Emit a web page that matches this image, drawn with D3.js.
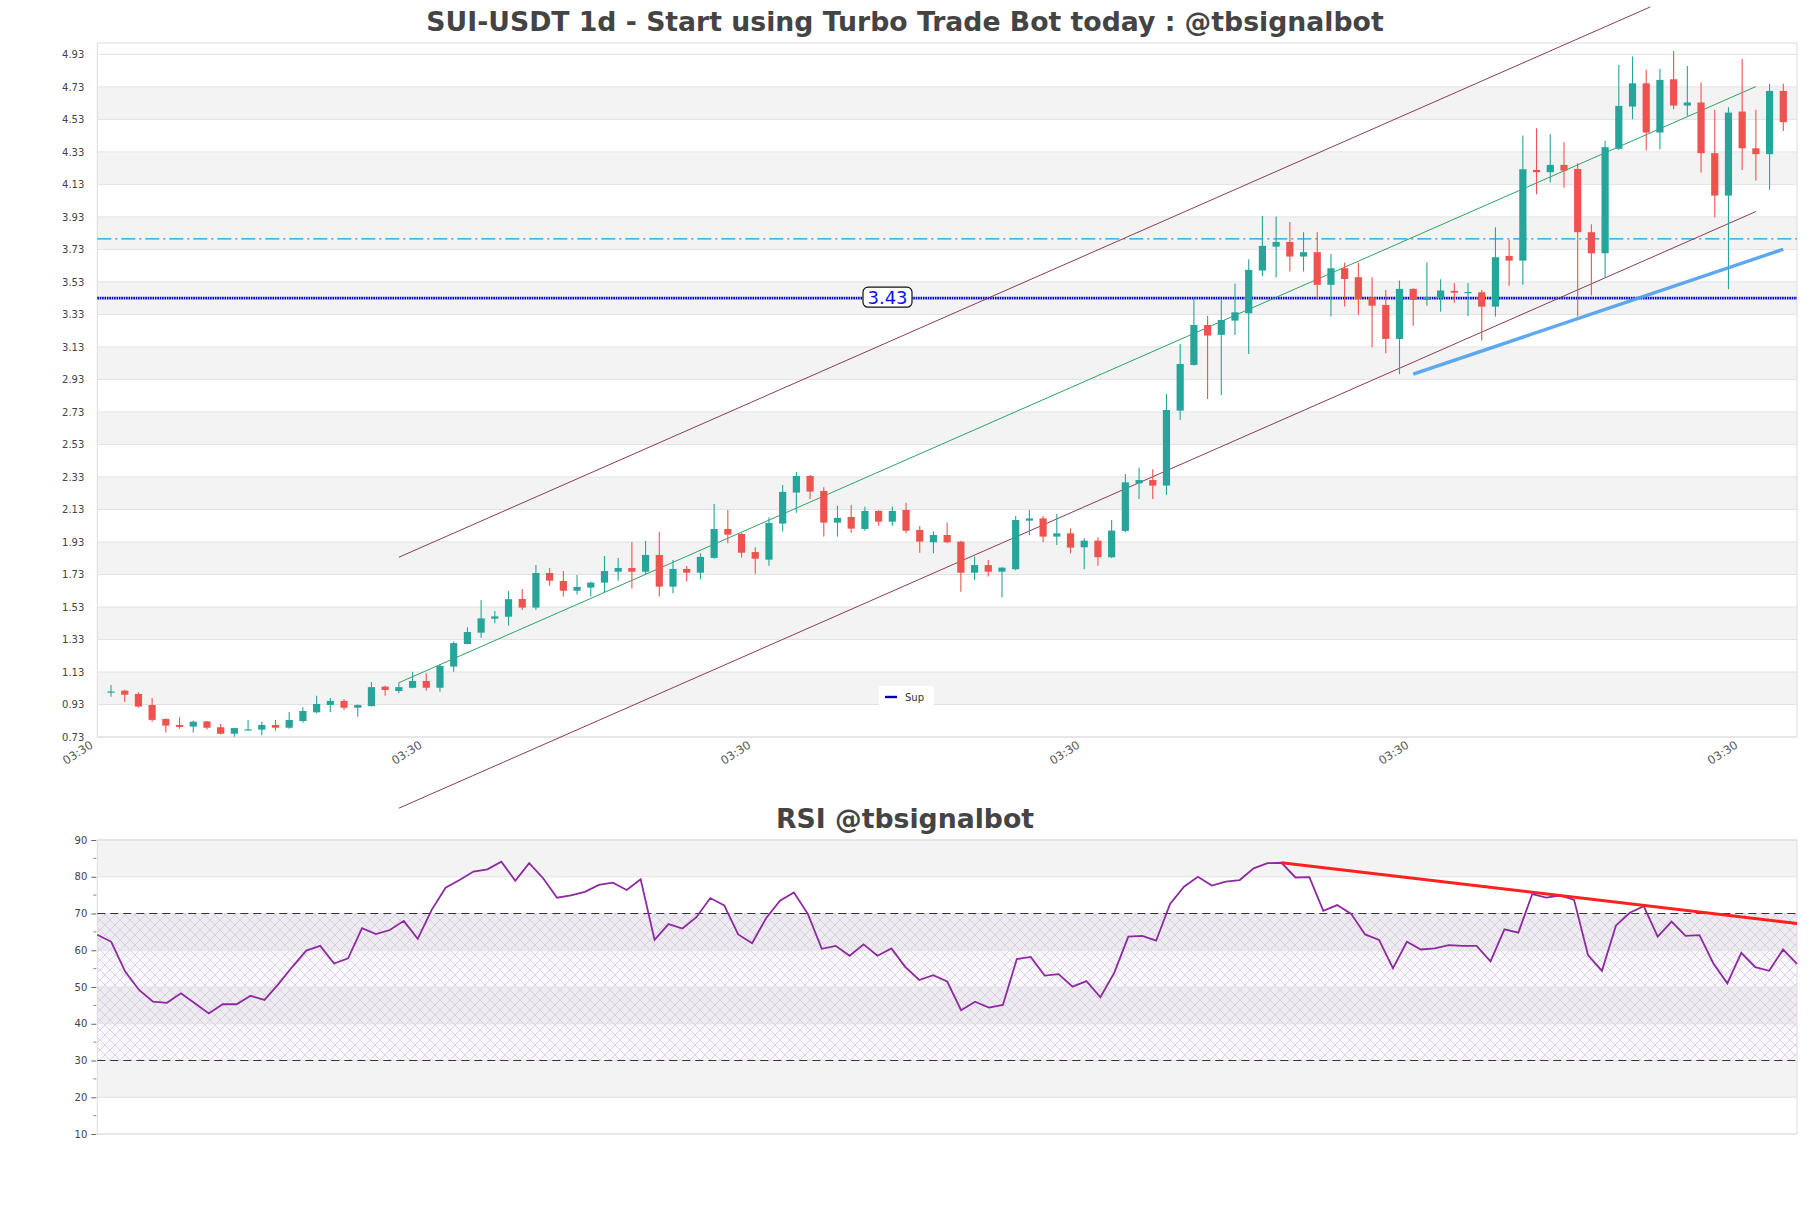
<!DOCTYPE html>
<html>
<head>
<meta charset="utf-8">
<script src="https://cdn.jsdelivr.net/npm/d3@7/dist/d3.min.js"></script>
<style>
body { margin: 0; background: #fff; }
text { font-family: "DejaVu Sans", sans-serif; }
</style>
</head>
<body>
<svg id="chart" width="1811" height="1208"></svg>
<script>

// daily candles, index 1..123 on the time axis
var opens = [1.005,1.015,0.995,0.927,0.841,0.804,0.794,0.826,0.79,0.75,0.773,0.775,0.804,0.787,0.828,0.882,0.927,0.952,0.91,0.92,
    1.04,1.013,1.033,1.075,1.033,1.163,1.302,1.372,1.458,1.47,1.579,1.526,1.739,1.69,1.63,1.649,1.68,1.747,1.77,1.747,
    1.85,1.655,1.764,1.741,1.832,2.01,1.979,1.868,1.821,2.043,2.234,2.336,2.244,2.049,2.084,2.01,2.121,2.055,2.127,2.004,
    1.928,1.973,1.932,1.741,1.788,1.747,1.762,2.061,2.075,1.963,1.983,1.897,1.938,1.836,1.998,2.291,2.311,2.277,2.738,3.019,
    3.265,3.204,3.292,3.337,3.6,3.747,3.776,3.686,3.713,3.512,3.614,3.559,3.434,3.388,3.179,3.487,3.419,3.43,3.475,3.464,
    3.466,3.378,3.69,3.661,4.219,4.205,4.25,4.225,3.836,3.706,4.349,4.609,4.752,4.449,4.777,4.615,4.634,4.322,4.061,4.578,
    4.352,4.316,4.705];
var highs = [1.05,1.02,1.005,0.97,0.845,0.851,0.832,0.828,0.81,0.787,0.835,0.824,0.835,0.884,0.913,0.984,0.97,0.962,0.93,1.068,
    1.046,1.064,1.132,1.122,1.179,1.317,1.405,1.573,1.505,1.628,1.641,1.788,1.77,1.751,1.727,1.685,1.844,1.831,1.93,1.936,
    1.992,1.819,1.782,1.86,2.164,2.127,1.985,1.897,2.082,2.28,2.36,2.342,2.266,2.152,2.158,2.147,2.125,2.147,2.172,2.028,
    1.994,2.049,1.938,1.84,1.819,1.775,2.09,2.127,2.09,2.102,2.014,1.953,1.959,2.065,2.348,2.387,2.377,2.841,3.148,3.43,
    3.321,3.419,3.518,3.67,3.936,3.932,3.899,3.836,3.836,3.702,3.649,3.649,3.559,3.481,3.538,3.491,3.649,3.546,3.522,3.522,
    3.481,3.867,3.789,4.431,4.476,4.439,4.39,4.26,3.885,4.398,4.865,4.917,4.835,4.841,4.952,4.859,4.757,4.589,4.605,4.902,
    4.589,4.749,4.749];
var lows = [0.978,0.945,0.912,0.824,0.757,0.781,0.757,0.777,0.746,0.732,0.77,0.74,0.769,0.781,0.818,0.876,0.884,0.896,0.855,0.917,
    0.984,0.999,1.03,1.015,1.009,1.132,1.30,1.341,1.43,1.415,1.511,1.511,1.661,1.594,1.606,1.594,1.62,1.692,1.643,1.733,
    1.594,1.614,1.686,1.70,1.827,1.922,1.834,1.735,1.784,1.994,2.11,2.195,1.963,1.963,1.987,1.999,2.03,2.03,1.983,1.864,
    1.86,1.922,1.624,1.696,1.717,1.589,1.754,1.973,1.928,1.912,1.86,1.762,1.784,1.832,1.99,2.195,2.195,2.219,2.681,3.015,
    2.81,2.835,3.204,3.087,3.567,3.557,3.594,3.594,3.43,3.317,3.378,3.327,3.128,3.091,2.962,3.261,3.384,3.347,3.403,3.321,
    3.169,3.317,3.507,3.512,4.07,4.141,4.11,3.317,3.446,3.557,4.342,4.531,4.338,4.347,4.592,4.552,4.203,3.928,3.485,4.218,
    4.154,4.096,4.459];
var closes = [1.01,0.99,0.917,0.835,0.80,0.792,0.824,0.787,0.75,0.785,0.777,0.804,0.787,0.835,0.89,0.933,0.952,0.91,0.927,1.037,
    1.019,1.037,1.075,1.033,1.167,1.308,1.376,1.46,1.472,1.578,1.526,1.739,1.692,1.63,1.653,1.68,1.751,1.77,1.747,1.85,
    1.655,1.764,1.741,1.838,2.01,1.975,1.864,1.827,2.047,2.238,2.336,2.24,2.049,2.078,2.012,2.121,2.055,2.121,1.999,1.932,
    1.973,1.928,1.741,1.788,1.747,1.772,2.065,2.075,1.963,1.983,1.895,1.938,1.836,2.0,2.297,2.311,2.277,2.742,3.025,3.265,
    3.2,3.296,3.343,3.604,3.752,3.776,3.686,3.713,3.512,3.614,3.548,3.425,3.384,3.179,3.487,3.419,3.436,3.477,3.464,3.468,
    3.378,3.682,3.661,4.223,4.205,4.25,4.215,3.836,3.706,4.359,4.613,4.752,4.449,4.773,4.615,4.634,4.322,4.061,4.572,4.352,
    4.316,4.705,4.513];

var rsiValues = [64.2,62.3,54.2,49.2,46.0,45.7,48.3,45.6,42.8,45.3,45.3,47.6,46.5,50.8,55.5,59.9,61.2,56.4,57.8,66.0,
    64.4,65.5,68.0,63.1,71.0,77.0,79.1,81.4,82.0,84.1,78.9,83.7,79.6,74.3,74.9,75.9,77.8,78.4,76.4,79.3,
    62.8,67.1,65.9,69.0,74.2,72.2,64.3,61.9,68.7,73.5,75.7,69.9,60.4,61.2,58.5,61.6,58.5,60.5,55.4,51.9,
    53.2,51.5,43.7,46.0,44.4,45.1,57.6,58.2,53.1,53.5,50.1,51.6,47.2,53.9,63.7,63.9,62.6,72.6,77.3,80.0,
    77.6,78.7,79.1,82.3,83.7,83.8,79.8,79.9,70.7,72.3,69.9,64.3,62.8,55.1,62.3,60.2,60.5,61.4,61.2,61.2,
    57.0,65.7,64.8,75.3,74.3,74.9,73.7,58.7,54.4,66.7,70.2,72.0,63.7,67.8,63.9,64.1,56.4,51.0,59.3,55.4,
    54.4,60.2,56.3];

var priceTicks = [0.73,0.93,1.13,1.33,1.53,1.73,1.93,2.13,2.33,2.53,2.73,2.93,3.13,3.33,3.53,3.73,3.93,4.13,4.33,4.53,4.73,4.93];
var rsiTicks = [10,20,30,40,50,60,70,80,90];
var rsiMinorTicks = [15,25,35,45,55,65,75,85];
var xTickIndex = [0,24,48,72,96,120];
var xTickLabels = ["03:30","03:30","03:30","03:30","03:30","03:30"];

// drawn lines as [index, value] pairs
var channelUpper = [[22,1.836],[113.3,5.222]];
var channelMid = [[22,1.064],[121,4.732]];
var channelLower = [[22,0.292],[121,3.963]];
var supTrend = [[96,2.962],[123,3.731]];
var rsiTrend = [[85,83.8],[122,67.3]];
var supLevel = 3.43;
var resLevel = 3.795;
var rsiLevels = [70,30];

var mainTitle = "SUI-USDT 1d - Start using Turbo Trade Bot today : @tbsignalbot";
var rsiTitle = "RSI @tbsignalbot";


var svg = d3.select("#chart");

var left = 97.3, right = 1797;
var priceTop = 43, priceBottom = 737;
var rsiTop = 840, rsiBottom = 1134;

var xScale = d3.scaleLinear().domain([0, 124]).range([left, right]);
var yScale = d3.scaleLinear().domain([0.73, 5.0]).range([priceBottom, priceTop]);
var rsiX = d3.scaleLinear().domain([0, rsiValues.length - 1]).range([left, right]);
var rsiY = d3.scaleLinear().domain([10, 90]).range([rsiBottom, rsiTop]);

var lineGen = d3.line()
    .x(function(d) { return xScale(d[0]); })
    .y(function(d) { return yScale(d[1]); });

var defs = svg.append("defs");
defs.append("pattern")
    .attr("id", "hatch")
    .attr("patternUnits", "userSpaceOnUse")
    .attr("width", 10)
    .attr("height", 10)
    .append("path")
    .attr("d", "M0,0L10,10M10,0L0,10")
    .attr("stroke", "#cdc3d8")
    .attr("stroke-width", 0.7)
    .attr("fill", "none");


/* PRICE PANEL */

var price = svg.append("g");

// alternating bands
var bandPairs = d3.pairs(priceTicks);
price.selectAll("rect.band")
    .data(bandPairs.filter(function(d, i) { return i % 2 == 1; }))
    .enter()
    .append("rect")
    .attr("class", "band")
    .attr("x", left)
    .attr("width", right - left)
    .attr("y", function(d) { return yScale(d[1]); })
    .attr("height", function(d) { return yScale(d[0]) - yScale(d[1]); })
    .attr("fill", "#f3f3f3");

price.selectAll("line.grid")
    .data(priceTicks)
    .enter()
    .append("line")
    .attr("class", "grid")
    .attr("x1", left)
    .attr("x2", right)
    .attr("y1", function(d) { return yScale(d); })
    .attr("y2", function(d) { return yScale(d); })
    .attr("stroke", "#e2e2e2")
    .attr("stroke-width", 1);

price.append("rect")
    .attr("x", left)
    .attr("y", priceTop)
    .attr("width", right - left)
    .attr("height", priceBottom - priceTop)
    .attr("fill", "none")
    .attr("stroke", "#dcdcdc");

var yAxis = price.append("g")
    .attr("transform", "translate(" + (left - 10) + ",0)")
    .call(d3.axisLeft(yScale).tickValues(priceTicks).tickSize(0).tickFormat(d3.format(".2f")));
yAxis.select(".domain").remove();
yAxis.selectAll("text").attr("font-size", 10).attr("fill", "#444").attr("font-family", "DejaVu Sans");

var xAxis = price.append("g")
    .attr("transform", "translate(0," + priceBottom + ")")
    .call(d3.axisBottom(xScale).tickValues(xTickIndex).tickSize(0)
        .tickFormat(function(d, i) { return xTickLabels[i]; }));
xAxis.select(".domain").remove();
xAxis.selectAll("text")
    .attr("font-size", 11.5)
    .attr("fill", "#555")
    .attr("font-family", "DejaVu Sans")
    .attr("text-anchor", "end")
    .attr("y", 0)
    .attr("dy", 0)
    .attr("transform", "translate(-4,10) rotate(-33)");

// resistance and support levels
price.append("line")
    .attr("x1", left).attr("x2", right)
    .attr("y1", yScale(resLevel)).attr("y2", yScale(resLevel))
    .attr("stroke", "#1c9ad6")
    .attr("stroke-width", 1.2)
    .attr("stroke-dasharray", "14,4,2,4");

price.append("line")
    .attr("x1", left).attr("x2", right)
    .attr("y1", yScale(supLevel)).attr("y2", yScale(supLevel))
    .attr("stroke", "#0000c0")
    .attr("stroke-width", 2.6)
    .attr("stroke-dasharray", "1.6,0.8");

// regression channel
price.append("path").datum(channelUpper).attr("d", lineGen)
    .attr("stroke", "#8c3b5c").attr("stroke-width", 1).attr("fill", "none");
price.append("path").datum(channelLower).attr("d", lineGen)
    .attr("stroke", "#8c3b5c").attr("stroke-width", 1).attr("fill", "none");
price.append("path").datum(channelMid).attr("d", lineGen)
    .attr("stroke", "#2ea363").attr("stroke-width", 1).attr("fill", "none");

// candles
var candles = opens.map(function(o, i) {
    return { idx: i + 1, o: o, h: highs[i], l: lows[i], c: closes[i] };
});
var bodyW = 7.2;
var colorFn = function(d) { return d.c >= d.o ? "#26a69a" : "#ef5350"; };

var cg = price.selectAll("g.candle")
    .data(candles)
    .enter()
    .append("g")
    .attr("class", "candle");

cg.append("line")
    .attr("x1", function(d) { return xScale(d.idx); })
    .attr("x2", function(d) { return xScale(d.idx); })
    .attr("y1", function(d) { return yScale(d.h); })
    .attr("y2", function(d) { return yScale(d.l); })
    .attr("stroke", colorFn)
    .attr("stroke-width", 1.1);

cg.append("rect")
    .attr("x", function(d) { return xScale(d.idx) - bodyW / 2; })
    .attr("width", bodyW)
    .attr("y", function(d) { return yScale(Math.max(d.o, d.c)); })
    .attr("height", function(d) {
        return Math.max(1.2, Math.abs(yScale(d.o) - yScale(d.c)));
    })
    .attr("fill", colorFn);

// support trend line
price.append("path").datum(supTrend).attr("d", lineGen)
    .attr("stroke", "#4a9ff0").attr("stroke-opacity", 0.9)
    .attr("stroke-width", 3.4).attr("fill", "none");

// level label
var lblX = 887.5, lblY = yScale(supLevel) - 1;
price.append("rect")
    .attr("x", lblX - 24.5).attr("y", lblY - 10)
    .attr("width", 49).attr("height", 20)
    .attr("rx", 5)
    .attr("fill", "#fff").attr("stroke", "#111").attr("stroke-width", 1.2);
price.append("text")
    .attr("x", lblX).attr("y", lblY + 6.5)
    .attr("text-anchor", "middle")
    .attr("font-size", 18)
    .attr("fill", "#1010ee")
    .text(supLevel.toFixed(2));

// legend
var legend = price.append("g").attr("transform", "translate(879,686)");
legend.append("rect").attr("width", 55).attr("height", 20).attr("fill", "#fff");
legend.append("line").attr("x1", 6).attr("x2", 18).attr("y1", 11).attr("y2", 11)
    .attr("stroke", "#0000b0").attr("stroke-width", 2.4);
legend.append("text").attr("x", 26).attr("y", 14.5)
    .attr("font-size", 10).attr("fill", "#333").text("Sup");

svg.append("text")
    .attr("x", 905).attr("y", 31)
    .attr("text-anchor", "middle")
    .attr("font-size", 26.7)
    .attr("font-weight", "bold")
    .attr("fill", "#444")
    .text(mainTitle);


/* RSI PANEL */

var rsi = svg.append("g");

rsi.selectAll("rect.band")
    .data(d3.pairs(rsiTicks).filter(function(d, i) { return i % 2 == 1; }))
    .enter()
    .append("rect")
    .attr("class", "band")
    .attr("x", left)
    .attr("width", right - left)
    .attr("y", function(d) { return rsiY(d[1]); })
    .attr("height", function(d) { return rsiY(d[0]) - rsiY(d[1]); })
    .attr("fill", "#f3f3f3");

rsi.append("rect")
    .attr("x", left).attr("width", right - left)
    .attr("y", rsiY(rsiLevels[0]))
    .attr("height", rsiY(rsiLevels[1]) - rsiY(rsiLevels[0]))
    .attr("fill", "rgba(150,110,190,0.05)");
rsi.append("rect")
    .attr("x", left).attr("width", right - left)
    .attr("y", rsiY(rsiLevels[0]))
    .attr("height", rsiY(rsiLevels[1]) - rsiY(rsiLevels[0]))
    .attr("fill", "url(#hatch)");

rsi.selectAll("line.grid")
    .data(rsiTicks)
    .enter()
    .append("line")
    .attr("class", "grid")
    .attr("x1", left).attr("x2", right)
    .attr("y1", function(d) { return rsiY(d); })
    .attr("y2", function(d) { return rsiY(d); })
    .attr("stroke", "#e2e2e2");

rsi.append("rect")
    .attr("x", left).attr("y", rsiTop)
    .attr("width", right - left).attr("height", rsiBottom - rsiTop)
    .attr("fill", "none").attr("stroke", "#dcdcdc");

var rAxis = rsi.append("g")
    .attr("transform", "translate(" + (left - 1) + ",0)")
    .call(d3.axisLeft(rsiY).tickValues(rsiTicks).tickSize(5).tickPadding(4));
rAxis.select(".domain").remove();
rAxis.selectAll("line").attr("stroke", "#666");
rAxis.selectAll("text").attr("font-size", 10).attr("fill", "#444").attr("font-family", "DejaVu Sans");

rsi.selectAll("line.minor")
    .data(rsiMinorTicks)
    .enter()
    .append("line")
    .attr("class", "minor")
    .attr("x1", left - 4).attr("x2", left - 1)
    .attr("y1", function(d) { return rsiY(d); })
    .attr("y2", function(d) { return rsiY(d); })
    .attr("stroke", "#888");

rsi.selectAll("line.level")
    .data(rsiLevels)
    .enter()
    .append("line")
    .attr("class", "level")
    .attr("x1", left).attr("x2", right)
    .attr("y1", function(d) { return rsiY(d); })
    .attr("y2", function(d) { return rsiY(d); })
    .attr("stroke", "#333")
    .attr("stroke-width", 1.1)
    .attr("stroke-dasharray", "8,5");

rsi.append("path")
    .datum(rsiValues)
    .attr("d", d3.line()
        .x(function(d, i) { return rsiX(i); })
        .y(function(d) { return rsiY(d); }))
    .attr("fill", "none")
    .attr("stroke", "#8e2aa0")
    .attr("stroke-width", 1.8);

rsi.append("path")
    .datum(rsiTrend)
    .attr("d", d3.line()
        .x(function(d) { return rsiX(d[0]); })
        .y(function(d) { return rsiY(d[1]); }))
    .attr("fill", "none")
    .attr("stroke", "#ff2020")
    .attr("stroke-width", 3);

svg.append("text")
    .attr("x", 905).attr("y", 828)
    .attr("text-anchor", "middle")
    .attr("font-size", 26.7)
    .attr("font-weight", "bold")
    .attr("fill", "#444")
    .text(rsiTitle);

</script>
</body>
</html>
